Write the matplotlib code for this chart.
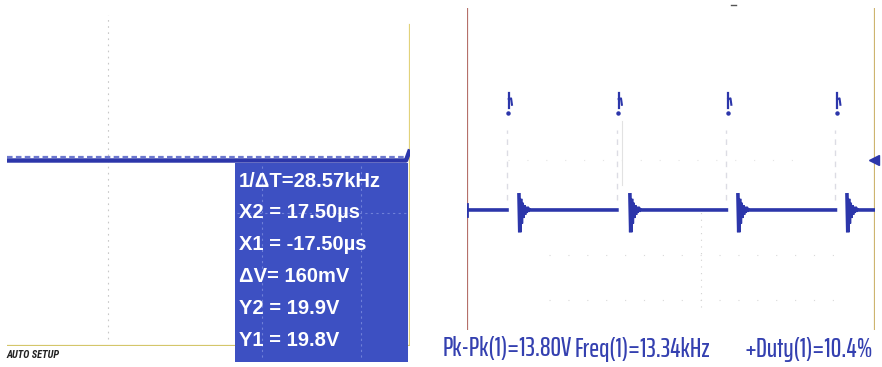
import numpy as np
import matplotlib
matplotlib.use("Agg")
import matplotlib.pyplot as plt
import matplotlib.transforms as mtransforms
from matplotlib.patches import Rectangle

# ---------------- data ----------------
# left screen: DC trace (time in us, level in V)
left_t_us = [-50.0, 49.0, 50.0]
left_v = [19.8, 19.8, 20.9]
cursor_lines = ["1/\u0394T=28.57kHz", "X2 = 17.50\u00b5s", "X1 = -17.50\u00b5s",
                "\u0394V= 160mV", "Y2 = 19.9V", "Y1 = 19.8V"]
left_status = "AUTO SETUP"

# right screen: pulse train (time in us, level in V)
pulse_rise_us = [27.4, 102.7, 177.7, 252.4]
pulse_fall_us = [35.6, 111.6, 185.6, 260.3]
low_level_v = 0.0
high_level_v = 13.8
ring_v = [1.9, -2.8, 1.4, -1.7, 0.9, -1.0, 0.6, -0.6, 0.4, -0.35, 0.25, -0.2, 0.1, 0.0]
ring_step_us = 0.55
right_end_us = 279.5
measurements = ["Pk-Pk(1)=13.80V", "Freq(1)=13.34kHz", "+Duty(1)=10.4%"]

# ---------------- style ----------------
W, H = 882, 367
TRACE = "#2c36aa"
BOX = "#3d50c2"


def fx(x):
    return x / W


def fy(y):
    return 1 - y / H


fig = plt.figure(figsize=(W / 100, H / 100), dpi=100)
fig.patch.set_facecolor("white")

# ===== left panel =====
axL = fig.add_axes([fx(7), fy(346), fx(410 - 7), (346 - 8) / H])
axL.set_xlim(-50, 50)
axL.set_ylim(1.25, 35.05)
axL.axis("off")
axL.axvline(-25, ymin=0.02, ymax=0.98, color="#c8c8c8", lw=0.8, ls=(0, (1.5, 4)))
axL.axvline(50, ymin=0.0, ymax=0.95, color="#e2d27a", lw=1.6)
axL.axhline(1.25, color="#d4c66a", lw=1.6)
axL.plot(left_t_us, left_v, color=TRACE, lw=3.2, solid_capstyle="butt", zorder=3)
off = mtransforms.offset_copy(axL.transData, fig=fig, y=4, units="dots")
axL.plot([left_t_us[0], left_t_us[1]], [left_v[0], left_v[1]], color="#6d78cf",
         lw=1.6, ls=(0, (2.5, 1.5)), transform=off, zorder=2)

# cursor readout box
fig.patches.append(Rectangle((fx(235), fy(362)), fx(408 - 235), (362 - 163) / H,
                             transform=fig.transFigure, facecolor=BOX,
                             edgecolor="none", zorder=5))
for yy in (213,):
    fig.add_artist(plt.Line2D([fx(237), fx(406)], [fy(yy), fy(yy)], transform=fig.transFigure,
                              color="#6f80d8", lw=0.8, ls=(0, (2, 3)), zorder=6))
for xx in (262, 361):
    fig.add_artist(plt.Line2D([fx(xx), fx(xx)], [fy(166), fy(360)], transform=fig.transFigure,
                              color="#6f80d8", lw=0.8, ls=(0, (2, 3)), zorder=6))
for i, s in enumerate(cursor_lines):
    fig.text(fx(239), fy(181 + 32 * i), s, color="white", fontsize=14.5,
             family=["Liberation Sans", "DejaVu Sans"], weight="bold",
             va="center", ha="left", zorder=7)
fig.text(fx(6), fy(355), left_status, color="#222222", fontsize=7.5,
         family=["Roboto Condensed", "DejaVu Sans"], weight="bold", style="italic",
         va="center", ha="left")

# ===== right panel =====
axR = fig.add_axes([fx(467), fy(330), fx(875 - 467), (330 - 8) / H])
axR.set_xlim(0, right_end_us)
axR.set_ylim(-15.06, 25.34)
axR.axis("off")

# faint graticule dots
for gy in (-5.6, -11.3):
    axR.axhline(gy, xmin=0.2, xmax=0.9, color="#d9d9d9", lw=0.8, ls=(0, (1, 16)))
axR.axhline(6.3, xmin=0.1, xmax=0.8, color="#e4e4e4", lw=0.8, ls=(0, (1, 16)))
axR.axvline(160.5, ymin=0.07, ymax=0.38, color="#d2d2d2", lw=0.8, ls=(0, (1, 5)))
axR.axvline(106.0, ymin=0.45, ymax=0.65, color="#e2e2e2", lw=0.8)

# borders
axR.axvline(0, color="#b5706a", lw=1.6)
axR.axvline(right_end_us, ymin=0.0, ymax=1.0, color="#cdb46e", lw=1.6)

# faint rising edges
for r in pulse_rise_us:
    axR.plot([r, r], [1.3, 10.0], color="#dcdce4", lw=1.0, ls=(0, (4, 4)), zorder=1)

# trace: low level segments with ringing after each falling edge
xs, ys = [0.0, pulse_rise_us[0]], [low_level_v, low_level_v]
for k, f in enumerate(pulse_fall_us):
    xs.append(np.nan)
    ys.append(np.nan)
    for j, rv in enumerate(ring_v):
        xs.append(f + j * ring_step_us)
        ys.append(low_level_v + rv)
    end = pulse_rise_us[k + 1] if k + 1 < len(pulse_rise_us) else right_end_us
    xs.append(end)
    ys.append(low_level_v)
axR.plot(xs, ys, color=TRACE, lw=2.6, solid_joinstyle="miter", zorder=3)
axR.plot([0, 0], [-0.8, 0.8], color=TRACE, lw=2.0, zorder=3)

# high-level fragments
for r in pulse_rise_us:
    axR.plot([r + 1.2, r + 1.2], [high_level_v - 1.0, high_level_v + 0.9], color=TRACE, lw=1.6)
    axR.plot([r + 1.2, r + 2.8, r + 3.4], [high_level_v + 0.1, high_level_v + 0.2, high_level_v - 0.6],
             color=TRACE, lw=1.5)
    axR.plot([r + 1.0], [high_level_v - 1.6], marker="o", ms=2.2, color=TRACE)

# trigger marker at right edge
axR.plot([right_end_us - 0.5], [6.3], marker="<", ms=7, color=TRACE, clip_on=False, zorder=4)
fig.add_artist(plt.Line2D([fx(731), fx(736)], [fy(5), fy(5)], transform=fig.transFigure,
                          color="#555555", lw=1.0))

# measurement readout
meas_x = [443, 575, 744]
for x0, s in zip(meas_x, measurements):
    fig.text(fx(x0), fy(349), s, color="#3440b0", fontsize=19,
             family=["Saira ExtraCondensed", "DejaVu Sans"],
             weight="medium", va="center", ha="left")

fig.savefig("out.png", dpi=100, facecolor="white")
